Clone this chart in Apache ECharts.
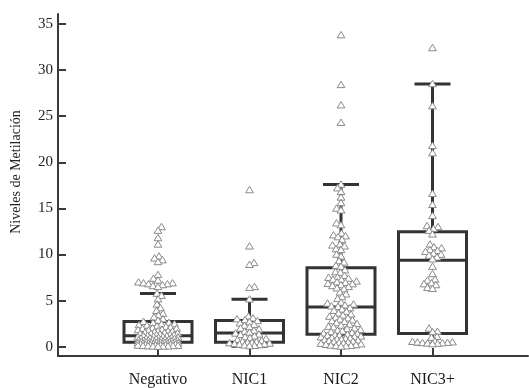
<!DOCTYPE html>
<html>
<head>
<meta charset="utf-8">
<script src="https://cdn.jsdelivr.net/npm/echarts@6/dist/echarts.min.js"></script>
<style>
  html, body { margin: 0; padding: 0; background: #fff; }
  #chart { width: 529px; height: 388px; }
</style>
</head>
<body>
<div id="chart"></div>
<script>
// ---- data ----
const categories = ['Negativo', 'NIC1', 'NIC2', 'NIC3+'];
const yTicks = [0, 5, 10, 15, 20, 25, 30, 35];

const negativo = [
  13.0, 12.6, 11.8, 11.1, 9.8, 9.6, 9.4, 9.2, 7.8, 7.4, 7.2, 7.0, 6.9, 6.9, 6.8, 6.8, 6.7, 6.6, 6.5,
  5.77, 5.55, 5.15, 4.6, 4.2, 3.9, 3.6, 3.4, 3.2, 3.0, 2.85,
  2.72, 2.61, 2.58, 2.47, 2.44, 2.36, 2.31, 2.22, 2.18, 2.11, 2.03, 1.98, 1.96, 1.87, 1.83,
  1.79, 1.72, 1.68, 1.66, 1.59, 1.54, 1.51, 1.47, 1.43, 1.41, 1.36, 1.33, 1.29, 1.26, 1.21,
  1.17, 1.15, 1.12, 1.08, 1.06, 1.03, 0.99, 0.97, 0.94, 0.92, 0.89, 0.86, 0.84, 0.81, 0.79,
  0.77, 0.74, 0.71, 0.69, 0.67, 0.64, 0.62, 0.60, 0.58, 0.56, 0.55, 0.53, 0.52, 0.50, 0.49,
  0.47, 0.46, 0.44, 0.43, 0.41, 0.40, 0.38, 0.37, 0.35, 0.33, 0.32, 0.30, 0.28, 0.27, 0.25,
  0.23, 0.22, 0.20, 0.18, 0.17, 0.15, 0.14, 0.12, 0.10, 0.09, 0.08, 0.06, 0.05, 0.04, 0.03
];
const nic1 = [
  17.0, 10.9, 9.1, 8.9, 6.5, 6.4,
  5.15, 3.3, 3.1, 3.0, 2.9,
  2.8, 2.7, 2.55, 2.4, 2.3, 2.15, 2.0, 1.9, 1.75, 1.65, 1.55,
  1.45, 1.35, 1.3, 1.15, 1.05, 0.95, 0.85, 0.75, 0.65, 0.58, 0.52,
  0.47, 0.44, 0.40, 0.36, 0.32, 0.28, 0.25, 0.20, 0.16, 0.12, 0.08
];
const nic2 = [
  33.8, 28.4, 26.2, 24.3,
  17.6, 17.2, 16.8, 16.2, 15.6, 15.0, 14.8, 13.4, 13.2, 12.3, 12.1, 12.0, 11.9, 11.6,
  11.1, 11.0, 10.9, 10.6, 10.5, 10.0, 9.8, 9.3, 9.15, 8.8, 8.7,
  8.3, 8.1, 8.05, 7.7, 7.55, 7.5, 7.4, 7.3, 7.25, 7.1, 7.0, 6.95, 6.85, 6.8, 6.7, 6.6,
  6.5, 6.35, 6.25, 5.9, 5.7, 5.4, 5.2, 4.8, 4.7, 4.6, 4.5, 4.4, 4.35,
  4.2, 4.05, 3.92, 3.81, 3.63, 3.52, 3.41, 3.28, 3.17, 3.09, 2.96, 2.88, 2.79, 2.71, 2.58,
  2.49, 2.42, 2.31, 2.19, 2.12, 2.01, 1.93, 1.84, 1.77, 1.68, 1.61, 1.52, 1.46, 1.40,
  1.33, 1.29, 1.24, 1.19, 1.13, 1.08, 1.04, 0.98, 0.93, 0.88, 0.84, 0.79, 0.73, 0.69, 0.64,
  0.58, 0.54, 0.49, 0.44, 0.39, 0.35, 0.29, 0.24, 0.19, 0.15, 0.12, 0.09, 0.07, 0.04
];
const nic3 = [
  32.4, 28.5, 26.1, 21.8, 21.0, 16.6, 15.4, 14.2, 13.1, 13.0, 12.8, 12.6,
  12.2, 11.1, 10.8, 10.7, 10.5, 10.4, 10.3, 10.1, 10.0, 9.9, 9.7, 9.5,
  8.7, 7.9, 7.3, 7.2, 6.9, 6.8, 6.7, 6.4, 6.3, 2.0, 1.65, 1.6,
  1.1, 1.0, 0.6, 0.55, 0.5, 0.48, 0.45, 0.42, 0.4, 0.38, 0.35, 0.3
];

// box summaries: [lower whisker, Q1, median, Q3, upper whisker]
const boxNegativo = [0.05, 0.48, 1.19, 2.75, 5.77];
const boxNic1 = [0.05, 0.50, 1.50, 2.85, 5.15];
const boxNic2 = [0.02, 1.37, 4.30, 8.58, 17.6];
const boxNic3 = [0.30, 1.45, 9.37, 12.47, 28.5];

// ---- chart ----
const groups = [negativo, nic1, nic2, nic3];
const boxes = [boxNegativo, boxNic1, boxNic2, boxNic3];

const pointData = [];
groups.forEach((vals, ci) => vals.forEach(v => pointData.push([ci, v])));
const boxData = boxes.map((b, ci) => [ci].concat(b));

const DARK = '#333333';
const FONT = 'Liberation Serif';

// beeswarm: spread points sideways so the triangles do not pile up
let swarm = null;
function buildSwarm(api) {
  const w = 4.8, h = 5.0, maxHalf = 20, step = 0.5;
  const out = new Array(pointData.length);
  for (let ci = 0; ci < groups.length; ci++) {
    const idx = [];
    pointData.forEach((d, i) => { if (d[0] === ci) idx.push(i); });
    const pts = idx.map(i => ({ i, p: api.coord(pointData[i]) }));
    pts.sort((a, b) => b.p[1] - a.p[1]);
    const placed = [];
    pts.forEach(({ i, p }) => {
      const cx = p[0], cy = p[1];
      let chosen = null, bestOff = 0, bestScore = -1;
      for (let k = 0; k * step <= maxHalf; k++) {
        const offs = k === 0 ? [0] : (placed.length % 2 ? [k * step, -k * step] : [-k * step, k * step]);
        for (const off of offs) {
          let minD = Infinity;
          for (const q of placed) {
            const dx = (cx + off - q[0]) / w, dy = (cy - q[1]) / h;
            const d = dx * dx + dy * dy;
            if (d < minD) minD = d;
          }
          if (minD >= 1) { chosen = off; break; }
          if (minD > bestScore) { bestScore = minD; bestOff = off; }
        }
        if (chosen !== null) break;
      }
      if (chosen === null) chosen = bestOff;
      placed.push([cx + chosen, cy]);
      out[i] = [cx + chosen, cy];
    });
  }
  return out;
}

const chart = echarts.init(document.getElementById('chart'), null, { renderer: 'canvas' });

chart.setOption({
  animation: false,
  backgroundColor: '#ffffff',
  grid: { left: 58, right: 1, top: 14, bottom: 31 },
  xAxis: {
    type: 'value',
    min: -1.0929,
    max: 4.0437,
    axisLine: { show: true, onZero: false, lineStyle: { color: '#3a3a3a', width: 2 } },
    axisTick: { show: true, inside: true, length: 8, customValues: [0, 1, 2, 3], lineStyle: { color: '#3a3a3a', width: 2 } },
    axisLabel: {
      customValues: [0, 1, 2, 3],
      formatter: v => categories[v],
      margin: 16,
      fontFamily: FONT,
      fontSize: 16,
      color: '#1a1a1a'
    },
    splitLine: { show: false }
  },
  yAxis: {
    type: 'value',
    min: -1.0,
    max: 36.08,
    axisLine: { show: true, onZero: false, lineStyle: { color: '#3a3a3a', width: 2 } },
    axisTick: { show: true, inside: true, length: 8, customValues: yTicks, lineStyle: { color: '#3a3a3a', width: 2 } },
    axisLabel: {
      customValues: yTicks,
      margin: 5,
      fontFamily: FONT,
      fontSize: 15,
      color: '#222'
    },
    splitLine: { show: false }
  },
  graphic: [{
    type: 'text',
    x: 16,
    y: 172,
    rotation: Math.PI / 2,
    style: {
      text: 'Niveles de Metilación',
      font: '14px "Liberation Serif"',
      fill: '#222',
      align: 'center',
      verticalAlign: 'middle'
    }
  }],
  series: [
    {
      type: 'custom',
      name: 'box',
      data: boxData,
      z: 2,
      renderItem: (params, api) => {
        const c = api.value(0);
        const lo = api.coord([c, api.value(1)]);
        const q1 = api.coord([c, api.value(2)]);
        const md = api.coord([c, api.value(3)]);
        const q3 = api.coord([c, api.value(4)]);
        const hi = api.coord([c, api.value(5)]);
        const x = lo[0], hb = 34, hc = 18;
        const st = { stroke: DARK, lineWidth: 3, fill: null };
        return {
          type: 'group',
          children: [
            { type: 'line', shape: { x1: x, y1: hi[1], x2: x, y2: q3[1] }, style: st },
            { type: 'line', shape: { x1: x, y1: q1[1], x2: x, y2: lo[1] }, style: st },
            { type: 'line', shape: { x1: x - hc, y1: hi[1], x2: x + hc, y2: hi[1] }, style: st },
            { type: 'line', shape: { x1: x - hc, y1: lo[1], x2: x + hc, y2: lo[1] }, style: st },
            { type: 'rect', shape: { x: x - hb, y: q3[1], width: hb * 2, height: q1[1] - q3[1] }, style: st },
            { type: 'line', shape: { x1: x - hb, y1: md[1], x2: x + hb, y2: md[1] }, style: st }
          ]
        };
      }
    },
    {
      type: 'custom',
      name: 'points',
      data: pointData,
      z: 3,
      renderItem: (params, api) => {
        if (!swarm) swarm = buildSwarm(api);
        const p = swarm[params.dataIndex];
        return {
          type: 'polygon',
          shape: { points: [[p[0], p[1] - 3.6], [p[0] - 3.9, p[1] + 2.8], [p[0] + 3.9, p[1] + 2.8]] },
          style: { fill: '#ffffff', stroke: '#8a8a8a', lineWidth: 1 }
        };
      }
    }
  ]
});
</script>
</body>
</html>
